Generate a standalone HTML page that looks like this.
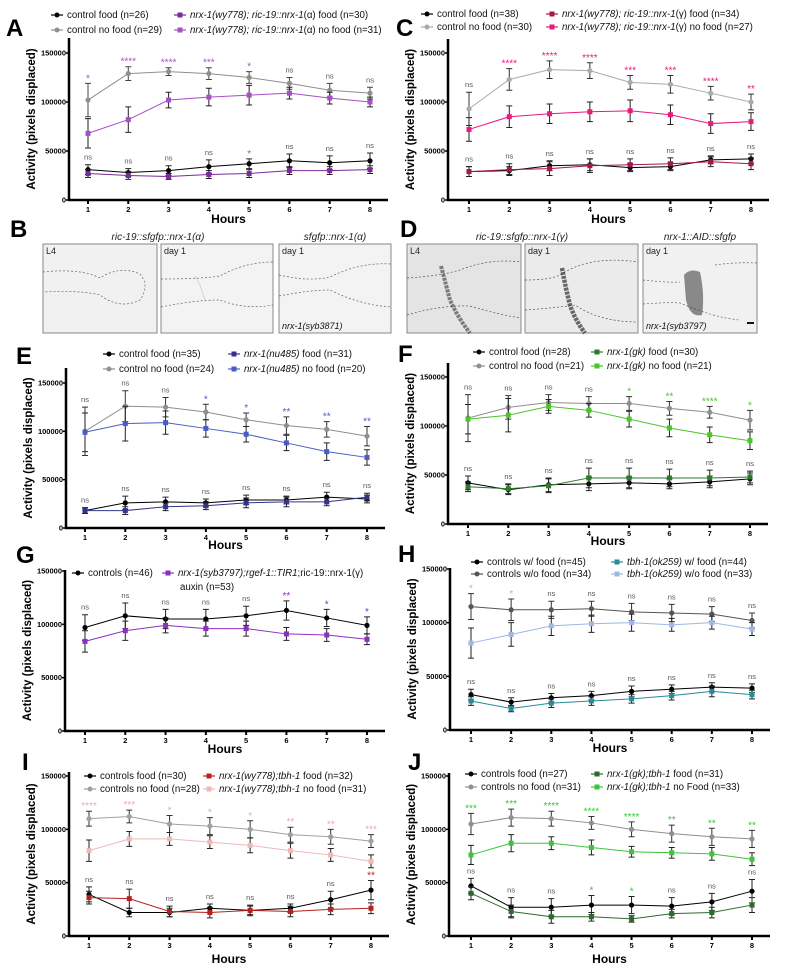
<!DOCTYPE html>
<html><head><meta charset="utf-8">
<style>
html,body{margin:0;padding:0;background:#fff;}
svg{display:block;font-family:"Liberation Sans",Arial,sans-serif;}
</style></head>
<body>
<svg id="fig" width="790" height="972" viewBox="0 0 790 972" xmlns="http://www.w3.org/2000/svg">
<g>
<text x="10" y="237" font-size="24" font-weight="bold">B</text>
<text x="158" y="240" font-size="10" font-style="italic" text-anchor="middle" fill="#222">ric-19::sfgfp::nrx-1(α)</text>
<text x="335" y="240" font-size="10" font-style="italic" text-anchor="middle" fill="#222">sfgfp::nrx-1(α)</text>
<g><rect x="43" y="244" width="114" height="89" fill="#f1f1f1" stroke="#888"/>
<path d="M43 272 Q80 268 100 278 Q120 265 140 274 Q150 285 140 300 Q120 310 100 295 Q80 290 43 292" fill="none" stroke="#666" stroke-dasharray="2,2" stroke-width="0.7"/>
<text x="46" y="254" font-size="9" fill="#222">L4</text></g>
<g><rect x="161" y="244" width="112" height="89" fill="#f3f3f3" stroke="#888"/>
<path d="M161 279 Q200 279 220 276 Q245 262 273 262 M161 307 Q195 300 220 300 Q245 310 273 305" fill="none" stroke="#666" stroke-dasharray="2,2" stroke-width="0.7"/>
<path d="M195 276 L200 285 L205 300" stroke="#777" stroke-width="1" fill="none" opacity="0.5" stroke-dasharray="1,1"/>
<text x="164" y="254" font-size="9" fill="#222">day 1</text></g>
<g><rect x="279" y="244" width="112" height="89" fill="#f3f3f3" stroke="#888"/>
<path d="M279 275 Q310 282 330 277 Q360 262 391 264 M279 296 Q310 290 330 290 Q360 305 391 307" fill="none" stroke="#666" stroke-dasharray="2,2" stroke-width="0.7"/>
<text x="282" y="254" font-size="9" fill="#222">day 1</text>
<text x="282" y="329" font-size="9" font-style="italic" fill="#111">nrx-1(syb3871)</text></g>
</g>
<g>
<text x="400" y="237" font-size="24" font-weight="bold">D</text>
<text x="522" y="240" font-size="10" font-style="italic" text-anchor="middle" fill="#222">ric-19::sfgfp::nrx-1(γ)</text>
<text x="700" y="240" font-size="10" font-style="italic" text-anchor="middle" fill="#222">nrx-1::AID::sfgfp</text>
<g><rect x="407" y="244" width="114" height="89" fill="#e4e4e4" stroke="#888"/>
<path d="M407 278 Q440 276 460 270 Q490 258 521 262 M407 315 Q440 305 470 306 Q500 315 521 318" fill="none" stroke="#555" stroke-dasharray="2,2" stroke-width="0.7"/>
<path d="M441 266 Q446 285 450 300 Q458 318 470 333" stroke="#222" stroke-width="4" fill="none" opacity="0.55" stroke-dasharray="3,1"/>
<text x="410" y="254" font-size="9" fill="#222">L4</text></g>
<g><rect x="525" y="244" width="113" height="89" fill="#ebebeb" stroke="#888"/>
<path d="M525 280 Q550 280 560 275 Q590 255 638 262 M525 310 Q555 308 575 305 Q600 322 638 322" fill="none" stroke="#555" stroke-dasharray="2,2" stroke-width="0.7"/>
<path d="M562 268 Q566 290 570 305 Q575 320 585 333" stroke="#111" stroke-width="4.5" fill="none" opacity="0.6" stroke-dasharray="3,1"/>
<text x="528" y="254" font-size="9" fill="#222">day 1</text></g>
<g><rect x="643" y="244" width="114" height="89" fill="#f1f1f1" stroke="#888"/>
<path d="M643 280 Q670 283 680 282 M715 265 Q735 262 757 263 M643 304 Q670 302 680 303 Q715 318 740 320" fill="none" stroke="#666" stroke-dasharray="2,2" stroke-width="0.7"/>
<path d="M684 275 Q690 268 700 272 Q705 295 702 315 Q690 318 686 300 Z" fill="#333" opacity="0.55"/>
<text x="646" y="254" font-size="9" fill="#222">day 1</text>
<text x="646" y="329" font-size="9" font-style="italic" fill="#111">nrx-1(syb3797)</text>
<rect x="747" y="322" width="7" height="2" fill="#111"/></g>
</g>
</svg>
<script>
const hours=[1,2,3,4,5,6,7,8];
const yTicks=[0,50000,100000,150000];
// Panel A
const A_ctrlFood=[31,28,30,34,37,40,38,40];
const A_ctrlFoodErr=[5,4,5,7,5,7,7,8];
const A_ctrlNoFood=[102,129,131,129,125,119,112,109];
const A_ctrlNoFoodErr=[17,7,4,6,6,6,7,6];
const A_mutFood=[27,25,24,26,27,30,30,31];
const A_mutFoodErr=[4,4,3,4,4,4,4,4];
const A_mutNoFood=[68,82,102,105,107,109,104,100];
const A_mutNoFoodErr=[15,13,8,9,10,6,6,5];
const A_starsTop=["*","****","****","***","*","ns","ns","ns"];
const A_starsLow=["ns","ns","ns","ns","*","ns","ns","ns"];
// Panel C
const C_ctrlFood=[29,30,35,36,33,34,41,42];
const C_ctrlFoodErr=[5,4,5,6,4,4,4,5];
const C_ctrlNoFood=[93,123,133,132,120,118,109,100];
const C_ctrlNoFoodErr=[17,11,9,8,7,9,7,8];
const C_mutFood=[29,31,32,35,36,37,39,37];
const C_mutFoodErr=[5,6,7,7,6,6,5,6];
const C_mutNoFood=[72,85,88,90,91,87,78,80];
const C_mutNoFoodErr=[12,11,10,10,11,10,10,9];
const C_starsTop=["ns","****","****","****","***","***","****","**"];
const C_starsLow=["ns","ns","ns","ns","ns","ns","ns","ns"];
// Panel E
const E_ctrlFood=[18,26,27,26,29,29,32,30];
const E_ctrlFoodErr=[3,7,5,4,5,4,5,4];
const E_ctrlNoFood=[100,126,125,120,112,106,102,95];
const E_ctrlNoFoodErr=[25,16,10,8,7,9,8,10];
const E_mutFood=[18,18,22,23,26,27,27,32];
const E_mutFoodErr=[3,4,4,4,5,5,4,4];
const E_mutNoFood=[99,108,109,103,97,88,79,73];
const E_mutNoFoodErr=[20,18,12,9,8,8,9,8];
const E_starsTop=["ns","ns","ns","*","*","**","**","**"];
const E_starsLow=["ns","ns","ns","ns","ns","ns","ns","ns"];
// Panel F
const F_ctrlFood=[42,35,40,41,42,41,43,46];
const F_ctrlFoodErr=[7,5,7,7,6,5,6,6];
const F_ctrlNoFood=[108,119,124,123,123,118,114,106];
const F_ctrlNoFoodErr=[24,12,8,7,7,7,6,10];
const F_mutFood=[38,36,39,47,47,47,47,48];
const F_mutFoodErr=[5,5,7,10,10,9,8,6];
const F_mutNoFood=[107,111,120,116,107,98,91,85];
const F_mutNoFoodErr=[15,17,7,7,8,9,8,9];
const F_starsTop=["ns","ns","ns","ns","*","**","****","*"];
const F_starsLow=["ns","ns","ns","ns","ns","ns","ns","ns"];
// Panel G
const G_ctrl=[97,108,105,105,108,113,106,99];
const G_ctrlErr=[12,12,9,9,9,9,8,8];
const G_mut=[84,94,99,96,96,91,90,86];
const G_mutErr=[10,9,7,7,7,6,6,5];
const G_stars=["ns","ns","ns","ns","ns","**","*","*"];
// Panel H
const H_ctrlFood=[33,26,30,32,36,38,40,39];
const H_ctrlFoodErr=[5,4,4,4,5,4,4,4];
const H_ctrlNoFood=[115,112,112,113,110,109,108,102];
const H_ctrlNoFoodErr=[12,10,8,7,8,8,7,7];
const H_mutFood=[27,20,25,27,29,32,36,33];
const H_mutFoodErr=[4,3,4,4,4,4,5,4];
const H_mutNoFood=[81,89,97,99,100,98,100,94];
const H_mutNoFoodErr=[14,11,9,8,8,6,6,6];
const H_starsTop=["*","*","ns","ns","ns","ns","ns","ns"];
const H_starsLow=["ns","ns","ns","ns","ns","ns","ns","ns"];
// Panel I
const I_ctrlFood=[39,22,22,26,24,26,34,43];
const I_ctrlFoodErr=[7,4,4,4,4,4,8,9];
const I_ctrlNoFood=[110,112,105,103,100,95,93,89];
const I_ctrlNoFoodErr=[7,6,8,8,8,7,7,6];
const I_mutFood=[36,35,23,22,24,23,25,26];
const I_mutFoodErr=[6,9,5,5,5,5,5,5];
const I_mutNoFood=[80,91,91,88,85,80,76,70];
const I_mutNoFoodErr=[10,7,6,6,7,7,6,6];
const I_starsTop=["****","***","*","*","*","**","**","***"];
const I_starsLow=["ns","ns","ns","ns","ns","ns","ns","**"];
// Panel J
const J_ctrlFood=[47,27,27,29,29,28,32,42];
const J_ctrlFoodErr=[7,9,8,9,8,8,8,11];
const J_ctrlNoFood=[105,111,110,106,100,96,93,91];
const J_ctrlNoFoodErr=[10,8,7,6,7,8,8,8];
const J_mutFood=[40,23,18,18,16,21,22,29];
const J_mutFoodErr=[6,6,6,4,3,4,5,7];
const J_mutNoFood=[76,87,87,83,79,78,77,72];
const J_mutNoFoodErr=[9,8,6,7,5,5,6,6];
const J_starsTop=["***","***","****","****","****","**","**","**"];
const J_starsLow=["ns","ns","ns","*","*","ns","ns","ns"];

const svg=document.getElementById('fig');
const NS='http://www.w3.org/2000/svg';
function mk(tag,attrs,parent){const e=document.createElementNS(NS,tag);for(const k in attrs)e.setAttribute(k,attrs[k]);parent.appendChild(e);return e;}

function drawPanel(p){
  const g=mk('g',{},svg);
  
  
  const xS=h=>p.x1+(h-1)*(p.x8-p.x1)/7;
  const yS=v=>p.y0-v/150000*(p.y0-p.y150);
  const lt=mk('text',{x:p.lx,y:p.ly,'font-size':24,'font-weight':'bold'},g);lt.textContent=p.id;
  
  
  const ya=mk('line',{x1:p.ax,y1:p.top,x2:p.ax,y2:p.y0+1,stroke:'#000','stroke-width':2.5},g);
  
  
  const xa=mk('line',{x1:p.ax-1,y1:p.y0,x2:p.x8+18,y2:p.y0,stroke:'#000','stroke-width':2.5},g);
  
  
  yTicks.forEach(t=>{
    const y=yS(t*1);
    mk('line',{x1:p.ax-3,y1:y,x2:p.ax,y2:y,stroke:'#000','stroke-width':1.5},g);
    const tx=mk('text',{x:p.ax-3,y:y+2.5,'font-size':7.5,'font-weight':'bold','text-anchor':'end'},g);
    tx.textContent=t;
    
    
  });
  hours.forEach(h=>{
    const x=xS(h);
    mk('line',{x1:x,y1:p.y0,x2:x,y2:p.y0+4,stroke:'#000','stroke-width':2},g);
    const tx=mk('text',{x:x,y:p.y0+12,'font-size':7.5,'font-weight':'bold','text-anchor':'middle'},g);
    tx.textContent=h;
    
    
  });
  const xt=mk('text',{x:(p.ax+p.x8+18)/2,y:p.y0+(p.hy||23),'font-size':12,'font-weight':'bold','text-anchor':'middle'},g);
  xt.textContent='Hours';
  
  
  const ty=(p.top+p.y0)/2;
  const yt=mk('text',{x:p.ax-34,y:ty,'font-size':11.5,'font-weight':'bold','text-anchor':'middle',transform:'rotate(-90 '+(p.ax-34)+' '+ty+')'},g);
  yt.textContent='Activity (pixels displaced)';
  
  
  p.series.forEach(s=>{
    const sg=mk('g',{},g);
    
    
    const pts=s.vals.map((v,i)=>xS(hours[i])+','+yS(v*1000)).join(' ');
    mk('polyline',{points:pts,fill:'none',stroke:s.color,'stroke-width':1},sg);
    s.vals.forEach((v,i)=>{
      const x=xS(hours[i]),y=yS(v*1000),e=s.err[i]*1000;
      const eb=mk('path',{d:`M${x} ${yS(v*1000-e)}V${yS(v*1000+e)}M${x-3} ${yS(v*1000+e)}h6M${x-3} ${yS(v*1000-e)}h6`,stroke:s.ecolor||'#222','stroke-width':1,fill:'none'},sg);
      
      
      let m;
      if(s.marker==='sq') m=mk('rect',{x:x-2.5,y:y-2.5,width:5,height:5,fill:s.color},sg);
      else m=mk('circle',{cx:x,cy:y,r:2.6,fill:s.color},sg);
      
      
    });
  });
  (p.stars||[]).forEach(st=>{
    st.labels.forEach((lab,i)=>{
      let top=0;
      st.over.forEach(s=>{top=Math.max(top,(s.vals[i]+s.err[i])*1000);});
      const t=mk('text',{x:xS(hours[i]),y:yS(top)-5+(lab==='ns'?0:3),'font-size':lab==='ns'?7.5:10,'text-anchor':'middle',fill:lab==='ns'?'#555':st.color},g);
      t.textContent=lab;
      
      
    });
  });
  p.legend.forEach(L=>{
    const lg=mk('g',{},g);
    
    
    mk('line',{x1:L.x,y1:L.y-3,x2:L.x+12,y2:L.y-3,stroke:L.color,'stroke-width':1.2},lg);
    if(L.marker==='sq') mk('rect',{x:L.x+3.5,y:L.y-5.5,width:5,height:5,fill:L.color},lg);
    else mk('circle',{cx:L.x+6,cy:L.y-3,r:2.5,fill:L.color},lg);
    const t=mk('text',{x:L.x+16,y:L.y,'font-size':9.7,fill:'#111'},lg);
    t.innerHTML=L.text;
  });
}

const BK='#000',GR='#8f8f8f';
drawPanel({id:'A',lx:6,ly:36,ax:69,y0:200,y150:53,x1:88,x8:370,top:38,
 series:[
  {name:'control-food',vals:A_ctrlFood,err:A_ctrlFoodErr,color:BK},
  {name:'control-no-food',vals:A_ctrlNoFood,err:A_ctrlNoFoodErr,color:GR,ecolor:'#444'},
  {name:'mutant-food',vals:A_mutFood,err:A_mutFoodErr,color:'#7a2a9a',marker:'sq'},
  {name:'mutant-no-food',vals:A_mutNoFood,err:A_mutNoFoodErr,color:'#a64fc9',marker:'sq'}],
 stars:[{labels:A_starsTop,color:'#a64fc9',over:[{vals:A_ctrlNoFood,err:A_ctrlNoFoodErr},{vals:A_mutNoFood,err:A_mutNoFoodErr}]},
        {labels:A_starsLow,color:'#a64fc9',over:[{vals:A_ctrlFood,err:A_ctrlFoodErr},{vals:A_mutFood,err:A_mutFoodErr}]}],
 legend:[{x:51,y:18,color:BK,text:'control food (n=26)'},{x:51,y:33,color:GR,text:'control no food (n=29)'},
  {x:174,y:18,color:'#7a2a9a',marker:'sq',text:'<tspan font-style="italic">nrx-1(wy778); ric-19::nrx-1</tspan>(α) food (n=30)'},
  {x:174,y:33,color:'#a64fc9',marker:'sq',text:'<tspan font-style="italic">nrx-1(wy778); ric-19::nrx-1</tspan>(α) no food (n=31)'}]});

drawPanel({id:'C',lx:396,ly:36,ax:448,y0:200,y150:53,x1:469,x8:751,top:39,
 series:[
  {name:'control-food',vals:C_ctrlFood,err:C_ctrlFoodErr,color:BK},
  {name:'control-no-food',vals:C_ctrlNoFood,err:C_ctrlNoFoodErr,color:'#aaa',ecolor:'#333'},
  {name:'mutant-food',vals:C_mutFood,err:C_mutFoodErr,color:'#a3174f',marker:'sq'},
  {name:'mutant-no-food',vals:C_mutNoFood,err:C_mutNoFoodErr,color:'#e8197f',marker:'sq'}],
 stars:[{labels:C_starsTop,color:'#e8197f',over:[{vals:C_ctrlNoFood,err:C_ctrlNoFoodErr},{vals:C_mutNoFood,err:C_mutNoFoodErr}]},
        {labels:C_starsLow,color:'#e8197f',over:[{vals:C_ctrlFood,err:C_ctrlFoodErr},{vals:C_mutFood,err:C_mutFoodErr}]}],
 legend:[{x:421,y:17,color:BK,text:'control food (n=38)'},{x:421,y:30,color:'#aaa',text:'control no food (n=30)'},
  {x:546,y:17,color:'#a3174f',marker:'sq',text:'<tspan font-style="italic">nrx-1(wy778); ric-19::nrx-1</tspan>(γ) food (n=34)'},
  {x:546,y:30,color:'#e8197f',marker:'sq',text:'<tspan font-style="italic">nrx-1(wy778); ric-19::nrx-1</tspan>(γ) no food (n=27)'}]});

drawPanel({id:'E',lx:16,ly:364,ax:66,y0:528,y150:383,x1:85,x8:367,top:368,hy:21,
 series:[
  {name:'control-food',vals:E_ctrlFood,err:E_ctrlFoodErr,color:BK},
  {name:'control-no-food',vals:E_ctrlNoFood,err:E_ctrlNoFoodErr,color:GR,ecolor:'#333'},
  {name:'mutant-food',vals:E_mutFood,err:E_mutFoodErr,color:'#33338f',marker:'sq'},
  {name:'mutant-no-food',vals:E_mutNoFood,err:E_mutNoFoodErr,color:'#4a5cc4',marker:'sq'}],
 stars:[{labels:E_starsTop,color:'#4a5cc4',over:[{vals:E_ctrlNoFood,err:E_ctrlNoFoodErr},{vals:E_mutNoFood,err:E_mutNoFoodErr}]},
        {labels:E_starsLow,color:'#4a5cc4',over:[{vals:E_ctrlFood,err:E_ctrlFoodErr},{vals:E_mutFood,err:E_mutFoodErr}]}],
 legend:[{x:103,y:357,color:BK,text:'control food (n=35)'},{x:103,y:372,color:GR,text:'control no food (n=24)'},
  {x:228,y:357,color:'#33338f',marker:'sq',text:'<tspan font-style="italic">nrx-1(nu485)</tspan> food (n=31)'},
  {x:228,y:372,color:'#4a5cc4',marker:'sq',text:'<tspan font-style="italic">nrx-1(nu485)</tspan> no food (n=20)'}]});

drawPanel({id:'F',lx:398,ly:362,ax:448,y0:524,y150:377,x1:468,x8:750,top:363,hy:21,
 series:[
  {name:'control-food',vals:F_ctrlFood,err:F_ctrlFoodErr,color:BK},
  {name:'control-no-food',vals:F_ctrlNoFood,err:F_ctrlNoFoodErr,color:GR,ecolor:'#333'},
  {name:'mutant-food',vals:F_mutFood,err:F_mutFoodErr,color:'#2b7a2e',marker:'sq'},
  {name:'mutant-no-food',vals:F_mutNoFood,err:F_mutNoFoodErr,color:'#4cc42c',marker:'sq'}],
 stars:[{labels:F_starsTop,color:'#4cc42c',over:[{vals:F_ctrlNoFood,err:F_ctrlNoFoodErr},{vals:F_mutNoFood,err:F_mutNoFoodErr}]},
        {labels:F_starsLow,color:'#4cc42c',over:[{vals:F_ctrlFood,err:F_ctrlFoodErr},{vals:F_mutFood,err:F_mutFoodErr}]}],
 legend:[{x:473,y:355,color:BK,text:'control food (n=28)'},{x:473,y:369,color:GR,text:'control no food (n=21)'},
  {x:591,y:355,color:'#2b7a2e',marker:'sq',text:'<tspan font-style="italic">nrx-1(gk)</tspan> food (n=30)'},
  {x:591,y:369,color:'#4cc42c',marker:'sq',text:'<tspan font-style="italic">nrx-1(gk)</tspan> no food (n=21)'}]});

drawPanel({id:'G',lx:16,ly:563,ax:65,y0:731,y150:571,x1:85,x8:367,top:570,hy:22,
 series:[
  {name:'controls',vals:G_ctrl,err:G_ctrlErr,color:BK},
  {name:'mutant-auxin',vals:G_mut,err:G_mutErr,color:'#8b2fc0',marker:'sq'}],
 stars:[{labels:G_stars,color:'#8b2fc0',over:[{vals:G_ctrl,err:G_ctrlErr}]}],
 legend:[{x:72,y:576,color:BK,text:'controls (n=46)'},
  {x:162,y:576,color:'#8b2fc0',marker:'sq',text:'<tspan font-style="italic">nrx-1(syb3797);rgef-1::TIR1</tspan>;ric-19::nrx-1(γ)'}]});
(function(){const t=mk('text',{x:180,y:590,'font-size':9.7,fill:'#111'},svg);t.textContent='auxin (n=53)';

})();

drawPanel({id:'H',lx:398,ly:562,ax:450,y0:730,y150:569,x1:471,x8:752,top:568,hy:22,
 series:[
  {name:'controls-with-food',vals:H_ctrlFood,err:H_ctrlFoodErr,color:BK},
  {name:'controls-without-food',vals:H_ctrlNoFood,err:H_ctrlNoFoodErr,color:'#555',ecolor:'#333'},
  {name:'tbh-1-with-food',vals:H_mutFood,err:H_mutFoodErr,color:'#268c98',marker:'sq'},
  {name:'tbh-1-without-food',vals:H_mutNoFood,err:H_mutNoFoodErr,color:'#9db8e4',marker:'sq'}],
 stars:[{labels:H_starsTop,color:'#9db8e4',over:[{vals:H_ctrlNoFood,err:H_ctrlNoFoodErr},{vals:H_mutNoFood,err:H_mutNoFoodErr}]},
        {labels:H_starsLow,color:'#9db8e4',over:[{vals:H_ctrlFood,err:H_ctrlFoodErr},{vals:H_mutFood,err:H_mutFoodErr}]}],
 legend:[{x:471,y:565,color:BK,text:'controls w/ food (n=45)'},{x:471,y:577,color:'#555',text:'controls w/o food (n=34)'},
  {x:611,y:565,color:'#268c98',marker:'sq',text:'<tspan font-style="italic">tbh-1(ok259)</tspan> w/ food (n=44)'},
  {x:611,y:577,color:'#9db8e4',marker:'sq',text:'<tspan font-style="italic">tbh-1(ok259)</tspan> w/o food (n=33)'}]});

drawPanel({id:'I',lx:22,ly:770,ax:69,y0:936,y150:776,x1:89,x8:371,top:772,hy:27,
 series:[
  {name:'controls-food',vals:I_ctrlFood,err:I_ctrlFoodErr,color:BK},
  {name:'controls-no-food',vals:I_ctrlNoFood,err:I_ctrlNoFoodErr,color:'#a0a0a0',ecolor:'#333'},
  {name:'mutant-food',vals:I_mutFood,err:I_mutFoodErr,color:'#b3231f',marker:'sq'},
  {name:'mutant-no-food',vals:I_mutNoFood,err:I_mutNoFoodErr,color:'#eeb9b9',marker:'sq'}],
 stars:[{labels:I_starsTop,color:'#eeaaaa',over:[{vals:I_ctrlNoFood,err:I_ctrlNoFoodErr},{vals:I_mutNoFood,err:I_mutNoFoodErr}]},
        {labels:I_starsLow,color:'#c0201e',over:[{vals:I_ctrlFood,err:I_ctrlFoodErr},{vals:I_mutFood,err:I_mutFoodErr}]}],
 legend:[{x:84,y:779,color:BK,text:'controls food (n=30)'},{x:84,y:792,color:'#a0a0a0',text:'controls no food (n=28)'},
  {x:203,y:779,color:'#b3231f',marker:'sq',text:'<tspan font-style="italic">nrx-1(wy778);tbh-1</tspan> food (n=32)'},
  {x:203,y:792,color:'#eeb9b9',marker:'sq',text:'<tspan font-style="italic">nrx-1(wy778);tbh-1</tspan> no food (n=31)'}]});

drawPanel({id:'J',lx:408,ly:770,ax:449,y0:936,y150:776,x1:471,x8:752,top:773,hy:27,
 series:[
  {name:'controls-food',vals:J_ctrlFood,err:J_ctrlFoodErr,color:BK},
  {name:'controls-no-food',vals:J_ctrlNoFood,err:J_ctrlNoFoodErr,color:'#8f8f8f',ecolor:'#333'},
  {name:'mutant-food',vals:J_mutFood,err:J_mutFoodErr,color:'#2d6a2d',marker:'sq'},
  {name:'mutant-no-food',vals:J_mutNoFood,err:J_mutNoFoodErr,color:'#3cc43c',marker:'sq'}],
 stars:[{labels:J_starsTop,color:'#3cc43c',over:[{vals:J_ctrlNoFood,err:J_ctrlNoFoodErr},{vals:J_mutNoFood,err:J_mutNoFoodErr}]},
        {labels:J_starsLow,color:'#3cc43c',over:[{vals:J_ctrlFood,err:J_ctrlFoodErr},{vals:J_mutFood,err:J_mutFoodErr}]}],
 legend:[{x:465,y:777,color:BK,text:'controls food (n=27)'},{x:465,y:790,color:'#8f8f8f',text:'controls no food (n=31)'},
  {x:591,y:777,color:'#2d6a2d',marker:'sq',text:'<tspan font-style="italic">nrx-1(gk);tbh-1</tspan> food (n=31)'},
  {x:591,y:790,color:'#3cc43c',marker:'sq',text:'<tspan font-style="italic">nrx-1(gk);tbh-1</tspan> no Food (n=33)'}]});
</script>
</body></html>
